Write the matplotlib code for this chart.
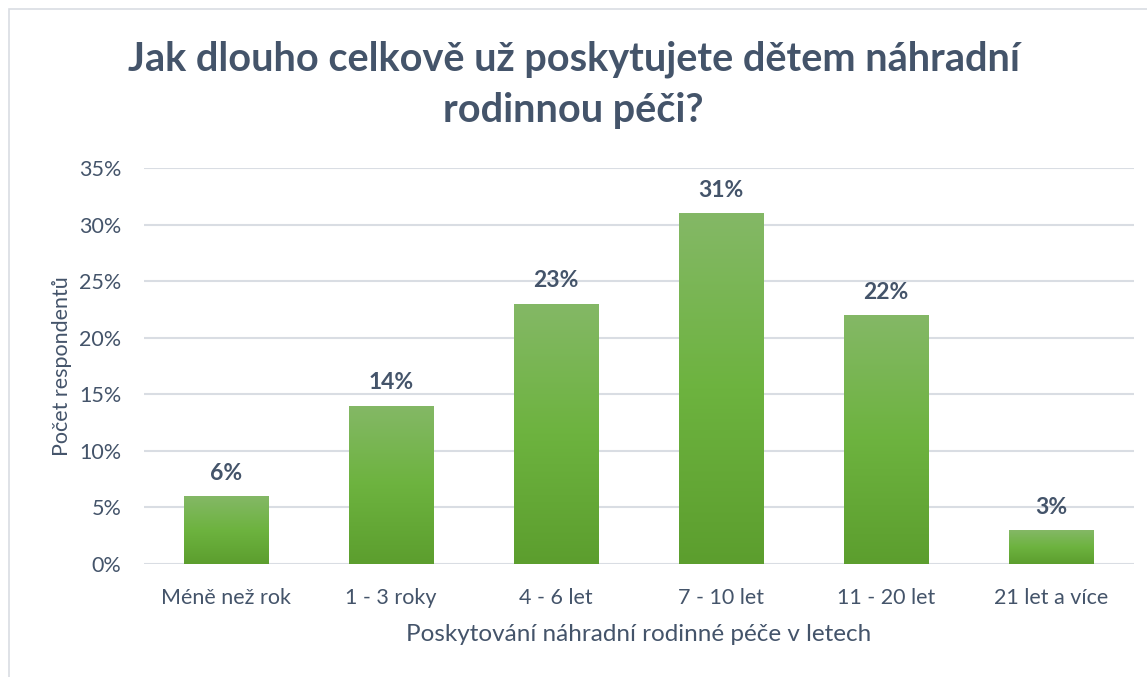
import numpy as np
import matplotlib.pyplot as plt
from matplotlib.patches import Rectangle
from matplotlib.colors import LinearSegmentedColormap
from matplotlib.ticker import PercentFormatter

plt.rcParams["font.family"] = ["Lato", "DejaVu Sans"]

categories = ["Méně než rok", "1 - 3 roky", "4 - 6 let", "7 - 10 let", "11 - 20 let", "21 let a více"]
values = [0.06, 0.14, 0.23, 0.31, 0.22, 0.03]
labels = ["6%", "14%", "23%", "31%", "22%", "3%"]

TEXT = "#44546a"
GRID = "#d9dde3"

fig = plt.figure(figsize=(11.47, 6.77), dpi=100)
# rámeček grafu
fig.patches.append(Rectangle((9 / 1147, -0.01), 1.2, (677 - 9) / 677 + 0.01,
                             transform=fig.transFigure, fill=False,
                             edgecolor="#d9dde3", linewidth=1.2))

ax = fig.add_axes([143.5 / 1147, 113 / 677, 990 / 1147, 396 / 677])
x = np.arange(len(categories))
bars = ax.bar(x, values, width=0.51, color="none", zorder=3)

# svislý přechod barvy v každém sloupci
cmap = LinearSegmentedColormap.from_list("g", ["#5c9e2e", "#6db33f", "#84b866"])
grad = np.linspace(0, 1, 256).reshape(-1, 1)
for b in bars:
    x0, y0 = b.get_x(), b.get_y()
    w, h = b.get_width(), b.get_height()
    im = ax.imshow(grad, cmap=cmap, aspect="auto", origin="lower",
                   extent=[x0, x0 + w, y0, y0 + h], zorder=3)
    im.set_clip_path(b)

for xi, v, lab in zip(x, values, labels):
    ax.text(xi, v + 0.011, lab, ha="center", va="bottom", fontsize=16.5,
            fontweight="bold", color=TEXT)

ax.set_xlim(-0.5, len(categories) - 0.5)
ax.set_ylim(0, 0.35)
ax.set_yticks(np.arange(0, 0.351, 0.05))
ax.yaxis.set_major_formatter(PercentFormatter(1.0, decimals=0))
ax.set_xticks(x)
ax.set_xticklabels(categories)
ax.grid(axis="y", color=GRID, linewidth=1.5, zorder=0)
ax.set_axisbelow(True)
for s in ax.spines.values():
    s.set_visible(False)
ax.tick_params(length=0, labelsize=15.5, colors=TEXT)
ax.tick_params(axis="x", pad=17)
ax.tick_params(axis="y", pad=16)

ax.set_xlabel("Poskytování náhradní rodinné péče v letech", fontsize=17.5,
              color=TEXT, labelpad=12)
ax.set_ylabel("Počet respondentů", fontsize=15.5, color=TEXT, labelpad=5)

fig.text(0.5, 1 - 85 / 677, "Jak dlouho celkově už poskytujete dětem náhradní\nrodinnou péči?",
         ha="center", va="center", fontsize=28.5, fontweight="bold", color=TEXT,
         linespacing=1.45)

fig.savefig("out.png", dpi=100)
